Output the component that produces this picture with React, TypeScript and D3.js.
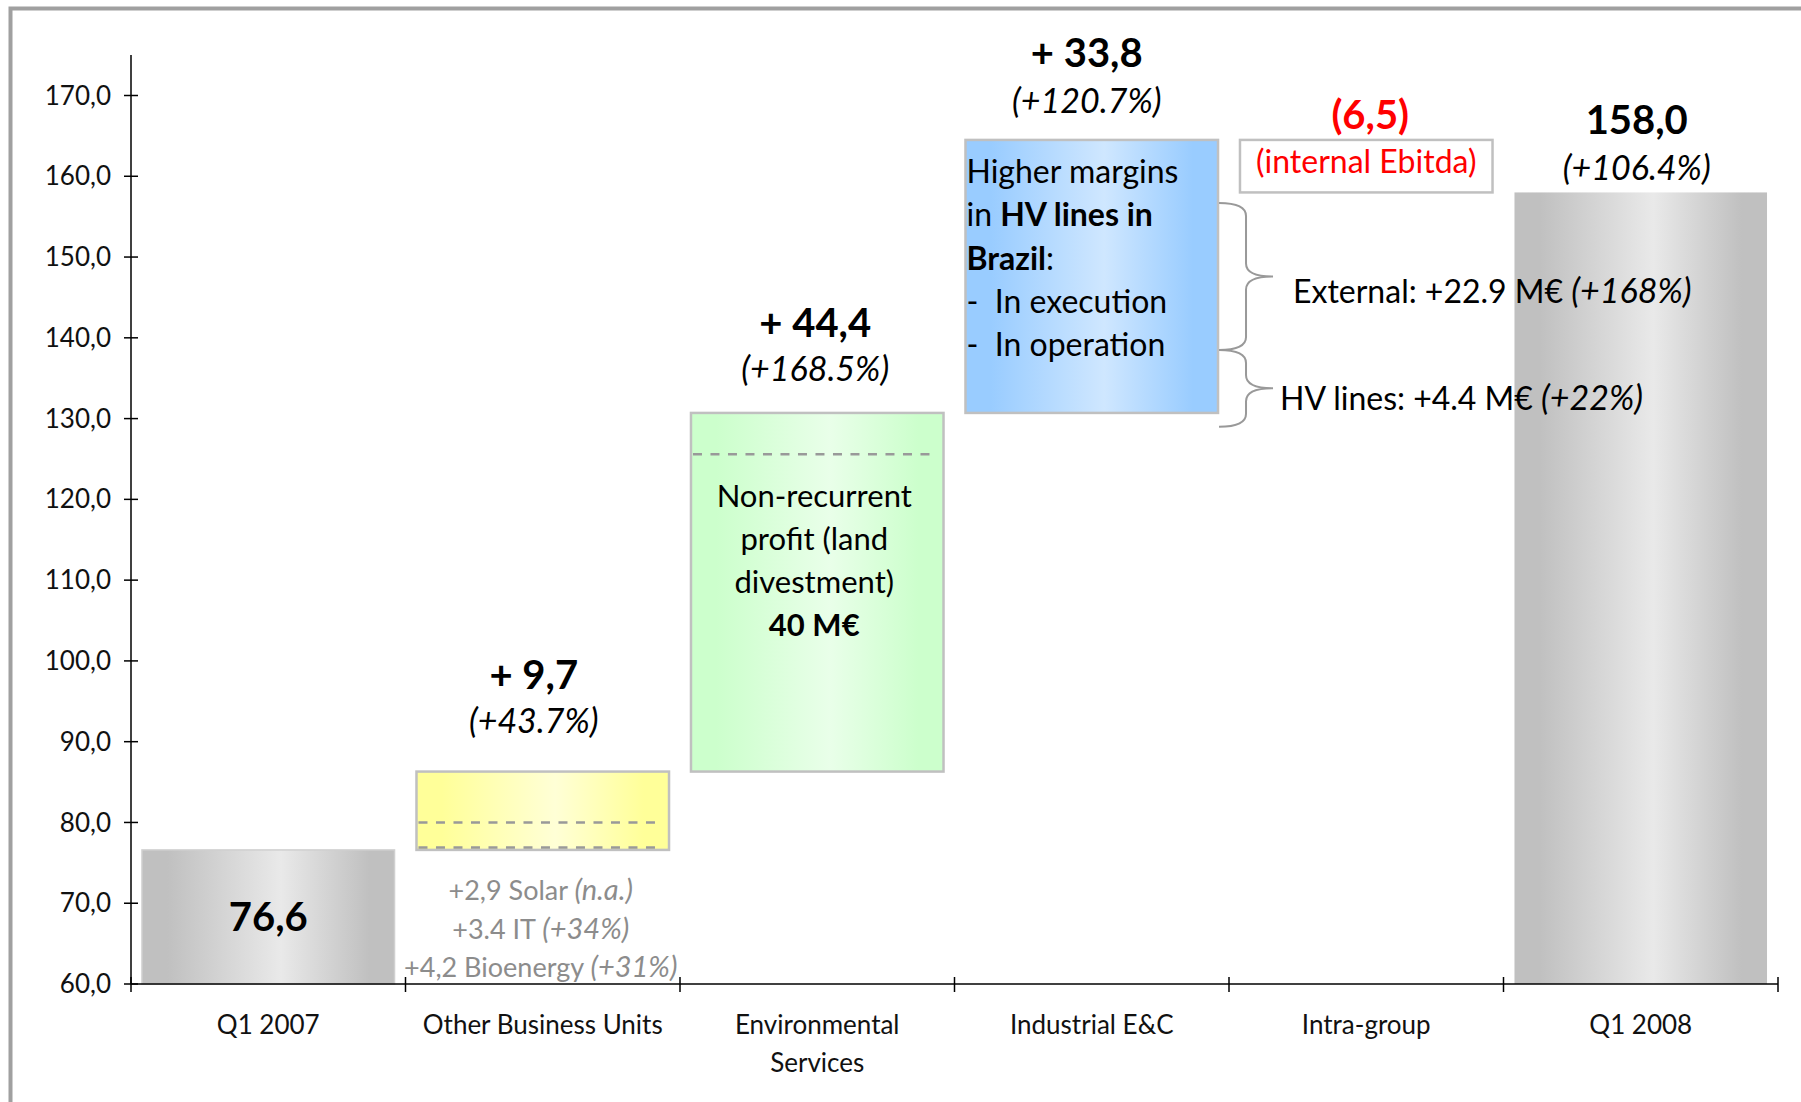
import React, { useEffect, useRef } from "react";
import * as d3 from "d3";

// chart values
const categoryLines = [
  ["Q1 2007"],
  ["Other Business Units"],
  ["Environmental", "Services"],
  ["Industrial E&C"],
  ["Intra-group"],
  ["Q1 2008"],
];
const values = [76.6, 9.7, 44.4, 33.8, -6.5, 158.0];
const isTotal = [true, false, false, false, false, true];
const valueLabels = ["76,6", "+ 9,7", "+ 44,4", "+ 33,8", "(6,5)", "158,0"];
const pctLabels = ["", "(+43.7%)", "(+168.5%)", "(+120.7%)", "", "(+106.4%)"];
const barKinds = ["gray", "yellow", "green", "blue", "white", "gray"];
const yTicks = [60, 70, 80, 90, 100, 110, 120, 130, 140, 150, 160, 170];

const otherUnitsSplits = [80.0, 76.9];
const otherUnitsNotes = [
  ["+2,9 Solar ", "(n.a.)"],
  ["+3.4 IT ", "(+34%)"],
  ["+4,2 Bioenergy ", "(+31%)"],
];
const envSplits = [125.6];
const envNote = ["Non-recurrent", "profit (land", "divestment)"];
const envNoteBold = "40 M€";
const braceRanges = [
  [156.7, 138.5],
  [138.5, 129.0],
];
const braceNotes = [
  ["External: +22.9 M€ ", "(+168%)"],
  ["HV lines: +4.4 M€ ", "(+22%)"],
];

const gradients = {
  gray: ["#c0c0c0", "#e9e9e9"],
  yellow: ["#ffff99", "#ffffd6"],
  green: ["#ccffcc", "#e9ffe9"],
  blue: ["#99ccff", "#cfe7ff"],
};

const FONT = "Lato, 'Open Sans', sans-serif";

function drawChart(node) {
  const width = 1801;
  const height = 1102;
  const svg = d3.select(node);
  svg.selectAll("*").remove();
  svg.attr("width", width).attr("height", height);

  const x0 = 131;
  const x1 = 1778;
  const y = d3.scaleLinear().domain([60, 170]).range([984, 95.5]);
  const band = d3
    .scaleBand()
    .domain(d3.range(values.length))
    .range([x0, x1])
    .paddingInner(0.08)
    .paddingOuter(0.04);
  const step = (x1 - x0) / values.length;
  const cx = (i) => x0 + step * (i + 0.5);

  // gradients
  const defs = svg.append("defs");
  Object.entries(gradients).forEach(([key, [edge, light]]) => {
    const g = defs
      .append("linearGradient")
      .attr("id", "grad-" + key)
      .attr("x1", "0%")
      .attr("x2", "100%");
    [
      [0, edge],
      [0.1, edge],
      [0.55, light],
      [0.9, edge],
      [1, edge],
    ].forEach(([o, c]) => g.append("stop").attr("offset", o).attr("stop-color", c));
  });

  // frame
  svg
    .append("rect")
    .attr("x", 10.5)
    .attr("y", 8.5)
    .attr("width", width + 20)
    .attr("height", height + 20)
    .attr("fill", "none")
    .attr("stroke", "#a0a0a0")
    .attr("stroke-width", 4);

  // waterfall bars
  let running = 0;
  const bars = values.map((v, i) => {
    let lo, hi;
    if (isTotal[i]) {
      lo = 60;
      hi = v;
      running = v;
    } else {
      lo = Math.min(running, running + v);
      hi = Math.max(running, running + v);
      running += v;
    }
    return { i, lo, hi };
  });

  bars.forEach((b) => {
    const kind = barKinds[b.i];
    const r = svg
      .append("rect")
      .attr("x", band(b.i))
      .attr("y", y(b.hi))
      .attr("width", band.bandwidth())
      .attr("height", y(b.lo) - y(b.hi));
    if (kind === "white") {
      r.attr("fill", "#fff").attr("stroke", "#c0c0c0").attr("stroke-width", 2.5);
    } else if (kind === "gray") {
      r.attr("fill", "url(#grad-gray)").attr("stroke", b.i === 0 ? "#d0d0d0" : "none").attr("stroke-width", 1.5);
    } else {
      r.attr("fill", "url(#grad-" + kind + ")").attr("stroke", "#c0c0c0").attr("stroke-width", 2.5);
    }
  });

  // dashed split lines
  const dashed = (i, v, x2Inset) => {
    svg
      .append("line")
      .attr("x1", band(i) + 2)
      .attr("x2", band(i) + band.bandwidth() - x2Inset)
      .attr("y1", y(v))
      .attr("y2", y(v))
      .attr("stroke", "#999")
      .attr("stroke-width", 2.5)
      .attr("stroke-dasharray", "9,8.5");
  };
  otherUnitsSplits.forEach((v) => dashed(1, v, 10));
  envSplits.forEach((v) => dashed(2, v, 14));

  // axes
  const axis = svg.append("g").attr("stroke", "#000").attr("stroke-width", 1.5);
  axis.append("line").attr("x1", x0).attr("x2", x0).attr("y1", 55).attr("y2", y(60));
  axis.append("line").attr("x1", x0).attr("x2", x1).attr("y1", y(60)).attr("y2", y(60));
  yTicks.forEach((t) => {
    axis.append("line").attr("x1", x0 - 7).attr("x2", x0 + 7).attr("y1", y(t)).attr("y2", y(t));
  });
  d3.range(values.length + 1).forEach((k) => {
    const xx = x0 + step * k;
    axis.append("line").attr("x1", xx).attr("x2", xx).attr("y1", y(60) - 7).attr("y2", y(60) + 8);
  });

  const fmt = (t) => d3.format(".1f")(t).replace(".", ",");
  svg
    .append("g")
    .selectAll("text")
    .data(yTicks)
    .enter()
    .append("text")
    .attr("x", 111)
    .attr("y", (d) => y(d))
    .attr("dy", "0.35em")
    .attr("text-anchor", "end")
    .attr("font-family", FONT)
    .attr("font-size", 26)
    .attr("fill", "#111")
    .text(fmt);

  categoryLines.forEach((lines, i) => {
    lines.forEach((l, j) => {
      svg
        .append("text")
        .attr("x", cx(i))
        .attr("y", 1025 + j * 38)
        .attr("dy", "0.35em")
        .attr("text-anchor", "middle")
        .attr("font-family", FONT)
        .attr("font-size", 26)
        .attr("fill", "#111")
        .text(l);
    });
  });

  // value and percent labels
  const labelLift = [0, 97, 90, 87, 25, 72];
  const pctLift = [0, 50, 44, 39, 0, 24];
  const labelShift = [0, -9, -2, -5, 4, -4];
  bars.forEach((b) => {
    const i = b.i;
    const top = y(b.hi);
    const red = i === 4;
    const vy = i === 0 ? (y(b.lo) + top) / 2 : top - labelLift[i];
    svg
      .append("text")
      .attr("x", cx(i) + labelShift[i])
      .attr("y", vy)
      .attr("dy", "0.35em")
      .attr("text-anchor", "middle")
      .attr("font-family", FONT)
      .attr("font-weight", "bold")
      .attr("font-size", 40)
      .attr("fill", red ? "#ff0000" : "#000")
      .text(valueLabels[i]);
    if (pctLabels[i]) {
      svg
        .append("text")
        .attr("x", cx(i) + labelShift[i])
        .attr("y", top - pctLift[i])
        .attr("dy", "0.35em")
        .attr("text-anchor", "middle")
        .attr("font-family", FONT)
        .attr("font-style", "italic")
        .attr("font-size", 34)
        .attr("fill", "#000")
        .text(pctLabels[i]);
    }
  });

  // intra-group note
  svg
    .append("text")
    .attr("x", cx(4))
    .attr("y", y(bars[4].hi) + 22)
    .attr("dy", "0.35em")
    .attr("text-anchor", "middle")
    .attr("font-family", FONT)
    .attr("font-size", 32)
    .attr("fill", "#ff0000")
    .text("(internal Ebitda)");

  // other business units notes
  otherUnitsNotes.forEach(([a, b], j) => {
    const t = svg
      .append("text")
      .attr("x", cx(1) - 2)
      .attr("y", 891 + j * 38.5)
      .attr("dy", "0.35em")
      .attr("text-anchor", "middle")
      .attr("font-family", FONT)
      .attr("font-size", 27)
      .attr("fill", "#8c8c8c");
    t.append("tspan").text(a);
    t.append("tspan").attr("font-style", "italic").attr("font-size", 29).text(b);
  });

  // environmental note
  envNote.forEach((l, j) => {
    svg
      .append("text")
      .attr("x", cx(2) - 3)
      .attr("y", 496 + j * 43)
      .attr("dy", "0.35em")
      .attr("text-anchor", "middle")
      .attr("font-family", FONT)
      .attr("font-size", 31)
      .attr("fill", "#000")
      .text(l);
  });
  svg
    .append("text")
    .attr("x", cx(2) - 3)
    .attr("y", 496 + 3 * 43)
    .attr("dy", "0.35em")
    .attr("text-anchor", "middle")
    .attr("font-family", FONT)
    .attr("font-weight", "bold")
    .attr("font-size", 31)
    .attr("fill", "#000")
    .text(envNoteBold);

  // industrial note inside blue box
  const bx = band(3) + 1;
  const blueLines = [
    [["Higher margins", false]],
    [["in ", false], ["HV lines in", true]],
    [["Brazil", true], [":", false]],
    [["-  In execution", false]],
    [["-  In operation", false]],
  ];
  blueLines.forEach((parts, j) => {
    const t = svg
      .append("text")
      .attr("x", bx)
      .attr("y", 172 + j * 43.2)
      .attr("dy", "0.35em")
      .attr("font-family", FONT)
      .attr("font-size", 32)
      .attr("fill", "#000")
      .attr("xml:space", "preserve")
      .style("white-space", "pre");
    parts.forEach(([s, bold]) => {
      t.append("tspan").attr("font-weight", bold ? "bold" : "normal").text(s);
    });
  });

  // braces
  const braceX0 = band(3) + band.bandwidth() + 1;
  const braceX1 = braceX0 + 27;
  const braceX2 = braceX0 + 54;
  braceRanges.forEach(([hiV, loV], k) => {
    const ya = y(hiV);
    const yb = y(loV);
    const ym = (ya + yb) / 2;
    const r = 13;
    const p = d3.path();
    p.moveTo(braceX0, ya);
    p.quadraticCurveTo(braceX1, ya, braceX1, ya + r);
    p.lineTo(braceX1, ym - r);
    p.quadraticCurveTo(braceX1, ym, braceX2, ym);
    p.quadraticCurveTo(braceX1, ym, braceX1, ym + r);
    p.lineTo(braceX1, yb - r);
    p.quadraticCurveTo(braceX1, yb, braceX0, yb);
    svg
      .append("path")
      .attr("d", p.toString())
      .attr("fill", "none")
      .attr("stroke", "#999")
      .attr("stroke-width", 2);
    const t = svg
      .append("text")
      .attr("x", k === 0 ? braceX2 + 20 : braceX2 + 7)
      .attr("y", k === 0 ? ym + 15 : ym + 10)
      .attr("dy", "0.35em")
      .attr("font-family", FONT)
      .attr("font-size", 32)
      .attr("fill", "#000");
    t.append("tspan").text(braceNotes[k][0]);
    t.append("tspan").attr("font-style", "italic").attr("font-size", 34).text(braceNotes[k][1]);
  });
}

export default function App() {
  const ref = useRef(null);
  useEffect(() => {
    drawChart(ref.current);
  }, []);
  return (
    <svg
      ref={ref}
      style={{ position: "absolute", left: 0, top: 0, background: "#fff", display: "block" }}
    />
  );
}
